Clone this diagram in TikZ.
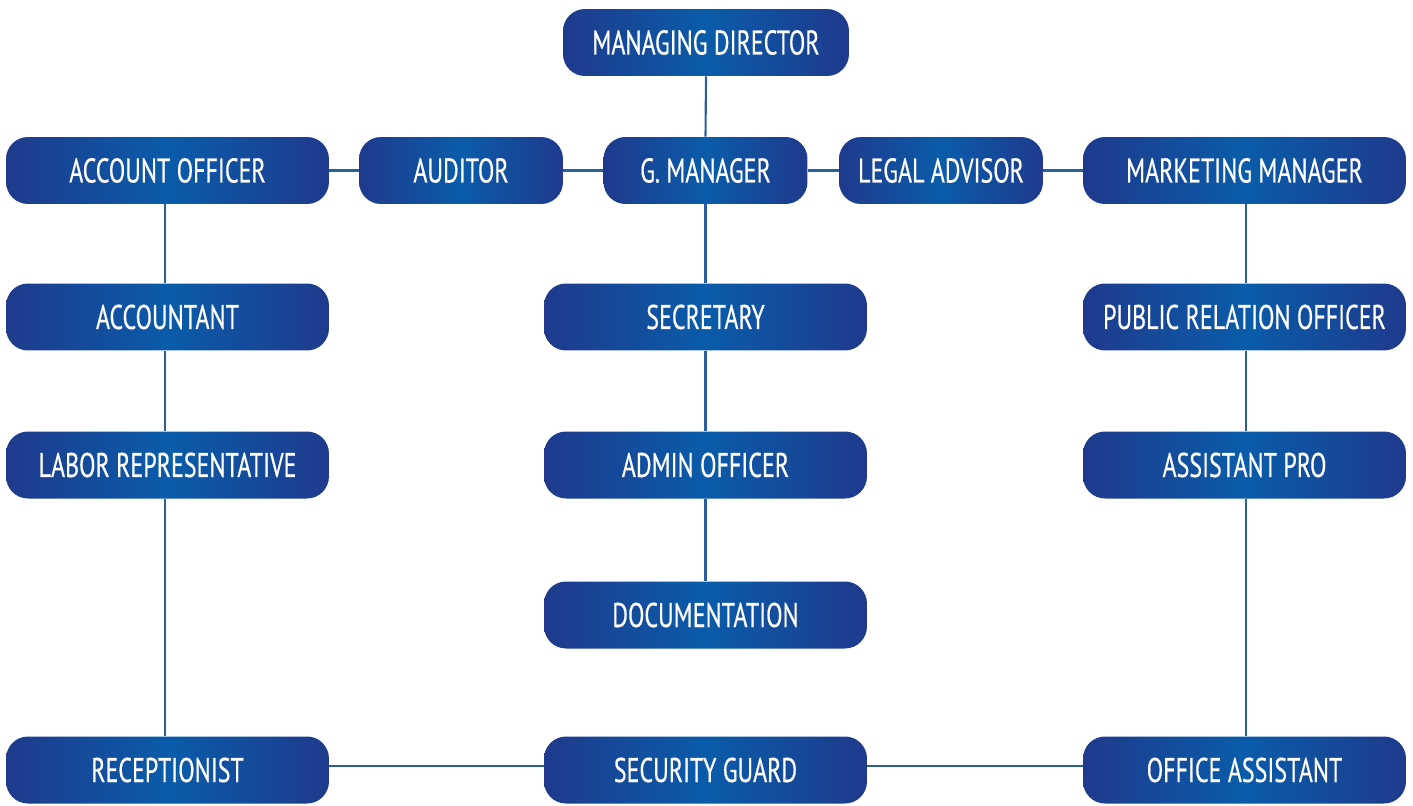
\documentclass[tikz,border=0pt]{standalone}
\usepackage{fontspec}
\setmainfont{PT Sans}[FakeStretch=0.70,FakeBold=0.4]
\begin{document}
\begin{tikzpicture}[x=0.02cm,y=-0.02cm,
  box/.style={rounded corners=0.44cm, minimum height=1.34cm, inner sep=0pt,
    left color=boxdark, right color=boxdark, middle color=boxlight,
    text=white, font=\fontsize{19.5}{22}\selectfont},
  wide/.style={box, minimum width=6.46cm},
  narrow/.style={box, minimum width=4.08cm},
  mdbox/.style={box, minimum width=5.72cm},
  link/.style={draw=linecol, line width=1.2pt}]
\definecolor{boxdark}{HTML}{1F3A8C}
\definecolor{boxlight}{HTML}{0A5CAA}
\definecolor{linecol}{HTML}{2A5E9E}
\useasboundingbox (0,0) rectangle (1413,805);
% nodes
\node[mdbox] (md) at (706,42.5) {MANAGING DIRECTOR};
\node[wide] (ao) at (167.5,170.5) {ACCOUNT OFFICER};
\node[narrow] (aud) at (461,170.5) {AUDITOR};
\node[narrow] (gm) at (705.5,170.5) {G. MANAGER};
\node[narrow] (la) at (941,170.5) {LEGAL ADVISOR};
\node[wide] (mm) at (1244.5,170.5) {MARKETING MANAGER};
\node[wide] (acc) at (167.5,317) {ACCOUNTANT};
\node[wide] (sec) at (705.5,317) {SECRETARY};
\node[wide] (pro) at (1244.5,317) {PUBLIC RELATION OFFICER};
\node[wide] (lab) at (167.5,465) {LABOR REPRESENTATIVE};
\node[wide] (adm) at (705.5,465) {ADMIN OFFICER};
\node[wide] (apro) at (1244.5,465) {ASSISTANT PRO};
\node[wide] (doc) at (705.5,615) {DOCUMENTATION};
\node[wide] (rec) at (167.5,770) {RECEPTIONIST};
\node[wide] (sg) at (705.5,770) {SECURITY GUARD};
\node[wide] (oa) at (1244.5,770) {OFFICE ASSISTANT};
% connectors
\draw[link] (md.south) -- (gm.north);
\draw[link] (ao.east) -- (aud.west);
\draw[link] (aud.east) -- (gm.west);
\draw[link] (gm.east) -- (la.west);
\draw[link] (la.east) -- (mm.west);
\draw[link] (gm.south) -- (sec.north);
\draw[link] (sec.south) -- (adm.north);
\draw[link] (adm.south) -- (doc.north);
\draw[link] ([xshift=-0.05cm]ao.south) -- ([xshift=-0.05cm]acc.north);
\draw[link] ([xshift=-0.05cm]acc.south) -- ([xshift=-0.05cm]lab.north);
\draw[link] ([xshift=-0.05cm]lab.south) -- ([xshift=-0.05cm]rec.north);
\draw[link] ([xshift=0.03cm]mm.south) -- ([xshift=0.03cm]pro.north);
\draw[link] ([xshift=0.03cm]pro.south) -- ([xshift=0.03cm]apro.north);
\draw[link] ([xshift=0.03cm]apro.south) -- ([xshift=0.03cm]oa.north);
\draw[link] ([yshift=0.08cm]rec.east) -- ([yshift=0.08cm]sg.west);
\draw[link] ([yshift=0.08cm]sg.east) -- ([yshift=0.08cm]oa.west);
\end{tikzpicture}
\end{document}
